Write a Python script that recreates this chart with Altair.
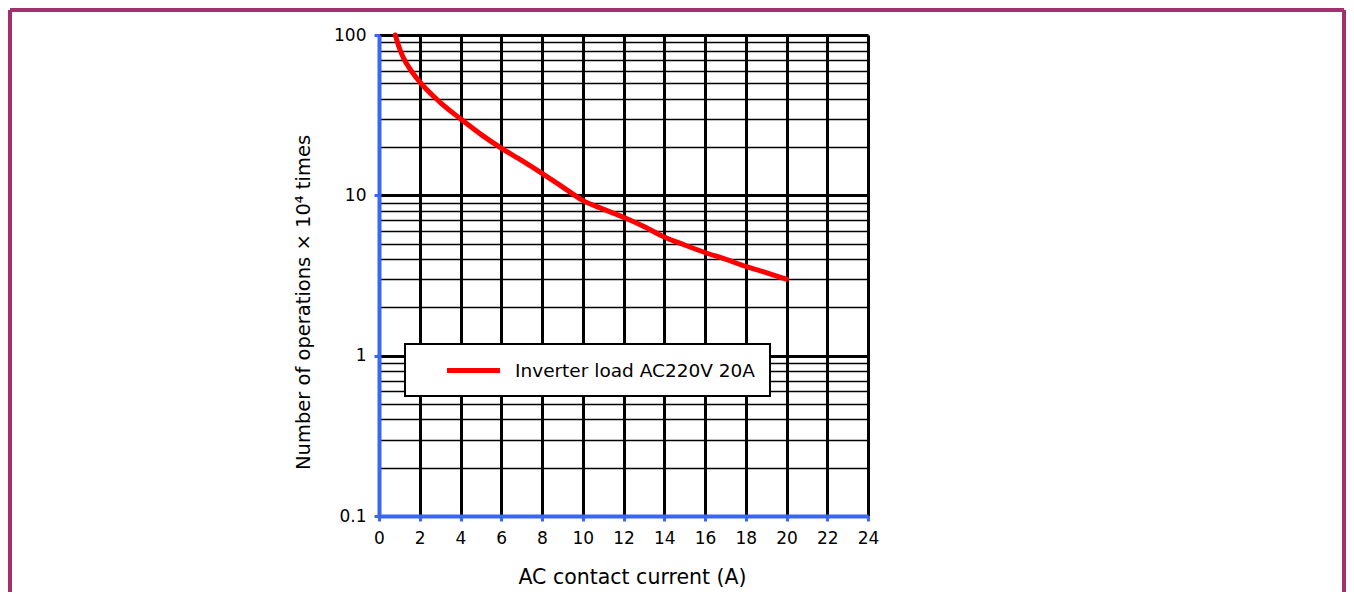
import altair as alt
import pandas as pd

# Curve: AC contact current (A) vs number of operations (x10^4)
current = [0.8, 1.0, 1.2, 1.5, 2, 3, 4, 5, 6, 7, 8, 9, 10, 11, 12, 13, 14, 15, 16, 17, 18, 19, 20]
operations = [100, 83, 72, 62, 51, 38, 30, 24, 19.7, 16.5, 13.7, 11.3, 9.3, 8.2, 7.3, 6.4, 5.5, 4.9, 4.4, 4.0, 3.6, 3.3, 3.0]
series_name = "Inverter load AC220V 20A"

x_ticks = list(range(0, 25, 2))
y_major = [0.1, 1, 10, 100]
y_grid = [round(m * d, 4) for d in [0.1, 1, 10] for m in range(1, 10)] + [100]

df = pd.DataFrame({"current": current, "ops": operations, "series": series_name})

W, H = 489, 481
FONT = "DejaVu Sans"
BLUE = "#3a66f5"
FRAME = "#a3306c"

major_test = "indexof([0.1, 1, 10, 100], datum.value) >= 0"

line = alt.Chart(df).mark_line(strokeWidth=5, interpolate="monotone", strokeCap="round").encode(
    x=alt.X("current:Q",
            scale=alt.Scale(domain=[0, 24], nice=False),
            axis=alt.Axis(values=x_ticks, title="AC contact current (A)", grid=True,
                          gridColor="black", gridWidth=3, gridOpacity=1,
                          domainColor=BLUE, domainWidth=4,
                          tickColor=BLUE, tickWidth=3, tickSize=5,
                          labelFont=FONT, labelFontSize=17, labelColor="black", labelPadding=9,
                          labelFlush=False,
                          titleFont=FONT, titleFontSize=20.5, titleFontWeight="normal",
                          titleColor="black", titlePadding=21, titleX=253, titleAlign="center")),
    y=alt.Y("ops:Q",
            scale=alt.Scale(type="log", domain=[0.1, 100], nice=False),
            axis=alt.Axis(values=y_grid, format="~g",
                          labelExpr=f"{major_test} ? datum.label : ''",
                          title="Number of operations × 10⁴ times",
                          grid=True, gridColor="black", gridOpacity=1,
                          gridWidth={"condition": {"test": major_test, "value": 3}, "value": 1.5},
                          domainColor=BLUE, domainWidth=4,
                          tickColor=BLUE, tickWidth=3, tickSize=5,
                          tickOpacity={"condition": {"test": major_test, "value": 1}, "value": 0},
                          labelFont=FONT, labelFontSize=17, labelColor="black", labelPadding=8,
                          labelFlush=False,
                          titleFont=FONT, titleFontSize=19.5, titleFontWeight="normal",
                          titleColor="black", titlePadding=20, titleY=267, titleAlign="center")),
    color=alt.Color("series:N", scale=alt.Scale(range=["#ff0000"]),
                    legend=alt.Legend(title=None, orient="none", legendX=26, legendY=309,
                                      fillColor="white", strokeColor="black", padding=15,
                                      symbolType="M-3,0H3", symbolSize=312, symbolStrokeWidth=5,
                                      symbolOffset=42, labelOffset=30,
                                      labelFont=FONT, labelFontSize=18.5, labelColor="black",
                                      labelLimit=400)),
)

frame_left = alt.Chart(pd.DataFrame({"a": [0]})).mark_rule(
    color=FRAME, strokeWidth=4, clip=False
).encode(x=alt.value(-369), y=alt.value(-25), y2=alt.value(557))

frame_right = alt.Chart(pd.DataFrame({"a": [0]})).mark_rule(
    color=FRAME, strokeWidth=4, clip=False
).encode(x=alt.value(965), y=alt.value(-25), y2=alt.value(557))

frame_top = alt.Chart(pd.DataFrame({"a": [0]})).mark_rule(
    color=FRAME, strokeWidth=4, clip=False
).encode(y=alt.value(-25), x=alt.value(-369), x2=alt.value(965))

chart = alt.layer(line, frame_left, frame_right, frame_top).properties(
    width=W, height=H, padding=0
).configure_view(stroke=None).configure_legend(strokeWidth=2)

chart.save("out.html", embed_options={"renderer": "svg", "actions": False})
